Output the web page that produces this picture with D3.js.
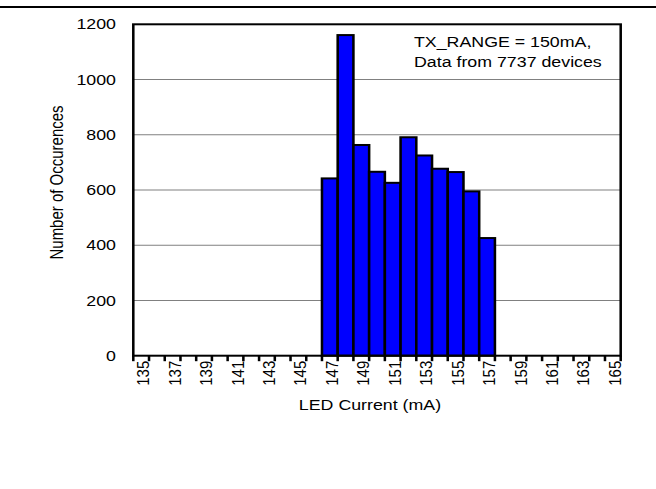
<!DOCTYPE html>
<html>
<head>
<meta charset="utf-8">
<script src="https://cdn.jsdelivr.net/npm/d3@7"></script>
<style>
  body { margin: 0; background: #fff; }
  svg { display: block; }
  text { font-family: "Liberation Sans", Arial, sans-serif; fill: #000; }
</style>
</head>
<body>
<script>
// LED current bins (mA), one bar per bin
const currents = [135, 136, 137, 138, 139, 140, 141, 142, 143, 144, 145, 146, 147, 148, 149, 150,
                  151, 152, 153, 154, 155, 156, 157, 158, 159, 160, 161, 162, 163, 164, 165];
// Number of devices measured in each bin
const occurrences = [0, 0, 0, 0, 0, 0, 0, 0, 0, 0, 0, 0, 642, 1161, 763, 666,
                     626, 791, 725, 677, 665, 595, 426, 0, 0, 0, 0, 0, 0, 0, 0];
// Every other bin gets a label
const xTickLabels = [135, 137, 139, 141, 143, 145, 147, 149, 151, 153, 155, 157, 159, 161, 163, 165];
const yTicks = [0, 200, 400, 600, 800, 1000, 1200];
const noteLines = ["TX_RANGE = 150mA,", "Data from 7737 devices"];

const W = 656, H = 489;
const SX = 1.27;               // the drawing is widened horizontally
const plotL = 133.3 / SX, plotR = 620.7 / SX, plotT = 24.3, plotB = 355.7;

const svg = d3.select("body").append("svg").attr("width", W).attr("height", H);
svg.append("rect").attr("width", W).attr("height", H).attr("fill", "#fff");

const g = svg.append("g").attr("transform", `scale(${SX},1)`);

// rule across the top of the page
g.append("line")
  .attr("x1", 0).attr("x2", W / SX).attr("y1", 7).attr("y2", 7)
  .attr("stroke", "#000").attr("stroke-width", 2);

const x = d3.scaleBand().domain(currents).range([plotL, plotR]).padding(0);
const y = d3.scaleLinear().domain([0, 1200]).range([plotB, plotT]);

// horizontal gridlines
g.append("g").selectAll("line")
  .data(yTicks.filter(d => d > 0 && d < 1200))
  .join("line")
  .attr("x1", plotL).attr("x2", plotR)
  .attr("y1", d => y(d)).attr("y2", d => y(d))
  .attr("stroke", "#808080").attr("stroke-width", 1);

// histogram bars
const data = currents.map((c, i) => ({ c, v: occurrences[i] }));
g.append("g").selectAll("rect")
  .data(data.filter(d => d.v > 0))
  .join("rect")
  .attr("x", d => x(d.c))
  .attr("y", d => y(d.v))
  .attr("width", x.bandwidth())
  .attr("height", d => y(0) - y(d.v))
  .attr("fill", "#0000ff")
  .attr("stroke", "#000")
  .attr("stroke-width", 2);

// plot frame
g.append("rect")
  .attr("x", plotL).attr("y", plotT)
  .attr("width", plotR - plotL).attr("height", plotB - plotT)
  .attr("fill", "none").attr("stroke", "#000").attr("stroke-width", 2);

// x-axis: a tick at every bin boundary
const edges = currents.map(c => x(c)).concat([plotR]);
g.append("g").selectAll("line")
  .data(edges)
  .join("line")
  .attr("x1", d => d).attr("x2", d => d)
  .attr("y1", plotB).attr("y2", plotB + 5.5)
  .attr("stroke", "#000").attr("stroke-width", 2);

// x labels, read bottom-to-top under every other bin
svg.append("g").selectAll("text")
  .data(xTickLabels)
  .join("text")
  .attr("transform", d => `translate(${(x(d) + x.bandwidth() / 2) * SX + 1.8},${plotB + 5}) scale(1.15,1) rotate(-90)`)
  .attr("text-anchor", "end")
  .attr("dy", "0.36em")
  .style("font-size", "15px")
  .text(d => d);

// y-axis labels
g.append("g").selectAll("text")
  .data(yTicks)
  .join("text")
  .attr("x", 116 / SX)
  .attr("y", d => y(d))
  .attr("dy", "0.36em")
  .attr("text-anchor", "end")
  .style("font-size", "14px")
  .text(d => d);

// axis titles
g.append("text")
  .attr("transform", `translate(${63 / SX},${182.5}) rotate(-90)`)
  .attr("text-anchor", "middle")
  .style("font-size", "15px")
  .text("Number of Occurences");

g.append("text")
  .attr("x", 370 / SX).attr("y", 410)
  .attr("text-anchor", "middle")
  .style("font-size", "14px")
  .text("LED Current (mA)");

// annotation inside the plot
g.append("g").selectAll("text")
  .data(noteLines)
  .join("text")
  .attr("x", 414 / SX)
  .attr("y", (d, i) => 46.7 + i * 20)
  .style("font-size", "14px")
  .text(d => d);
</script>
</body>
</html>
